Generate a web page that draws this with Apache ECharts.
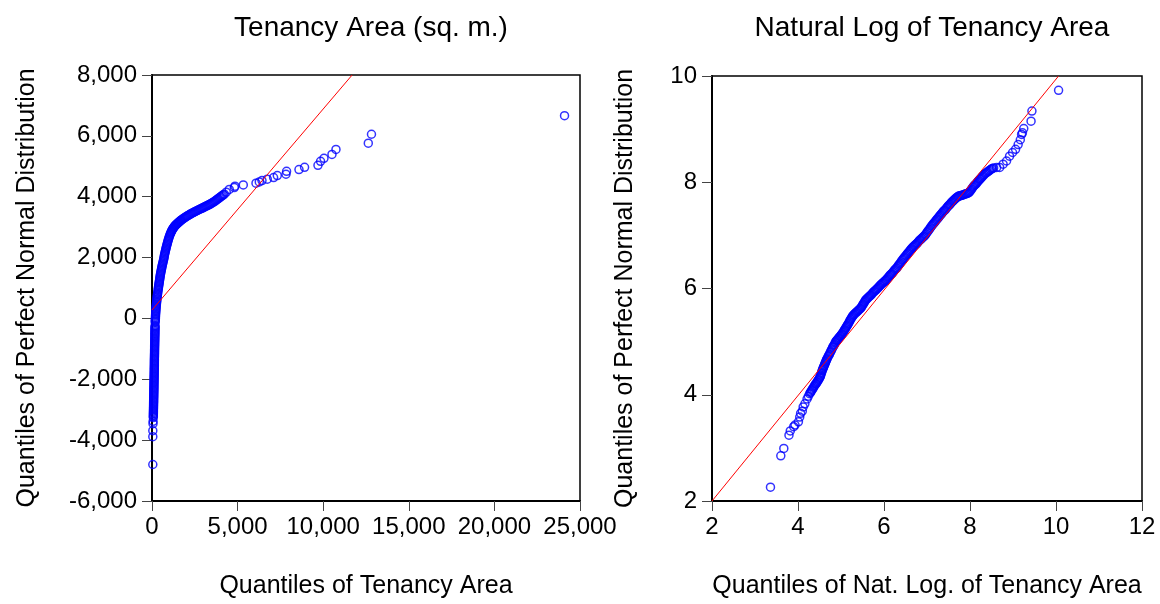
<!DOCTYPE html>
<html>
<head>
<meta charset="utf-8">
<script src="https://cdn.jsdelivr.net/npm/echarts@6/dist/echarts.min.js"></script>
<style>
html,body{margin:0;padding:0;background:#fff;}
#chart{width:1160px;height:604px;}
</style>
</head>
<body>
<div id="chart"></div>
<script>
// ---------- DATA ----------
const titles = ['Tenancy Area (sq. m.)', 'Natural Log of Tenancy Area'];
const xNames = ['Quantiles of Tenancy Area', 'Quantiles of Nat. Log. of Tenancy Area'];
const yName = 'Quantiles of Perfect Normal Distribution';

const areaXTickValues = [0, 5000, 10000, 15000, 20000, 25000];
const areaXTickLabels = ['0', '5,000', '10,000', '15,000', '20,000', '25,000'];
const areaYTickValues = [-6000, -4000, -2000, 0, 2000, 4000, 6000, 8000];
const areaYTickLabels = ['-6,000', '-4,000', '-2,000', '0', '2,000', '4,000', '6,000', '8,000'];
const logXTickValues = [2, 4, 6, 8, 10, 12];
const logXTickLabels = ['2', '4', '6', '8', '10', '12'];
const logYTickValues = [2, 4, 6, 8, 10];
const logYTickLabels = ['2', '4', '6', '8', '10'];

// Q-Q points: [quantile of tenancy area, quantile of normal distribution]
const areaPoints = [
 [47,-4800],[47,-3886],[47,-3690],[60,-3460],[64,-3380],
 [76,-3257],[78,-3216],[79,-3175],[81,-3134],[82,-3093],[84,-3052],[85,-3012],[87,-2971],[88,-2930],[90,-2889],
 [91,-2848],[92,-2808],[94,-2767],[95,-2726],[96,-2685],[98,-2645],[99,-2604],[101,-2563],[102,-2522],[104,-2481],
 [105,-2441],[107,-2400],[108,-2359],[110,-2318],[111,-2278],[113,-2237],[114,-2196],[116,-2155],[117,-2114],[119,-2074],
 [120,-2033],[122,-1992],[123,-1951],[125,-1910],[126,-1870],[128,-1829],[129,-1788],[131,-1747],[132,-1707],[133,-1666],
 [134,-1625],[136,-1584],[137,-1543],[138,-1503],[139,-1462],[139,-1421],[140,-1380],[141,-1340],[142,-1299],[144,-1258],
 [145,-1217],[147,-1176],[148,-1136],[149,-1095],[150,-1054],[151,-1013],[152,-972],[154,-932],[155,-891],[157,-850],
 [158,-809],[160,-768],[161,-728],[163,-687],[164,-646],[166,-605],[167,-565],[168,-524],[169,-483],[171,-442],
 [172,-401],[174,-361],[175,-320],[178,-279],[181,-238],
 [187,-124],[191,-81],[195,-38],[199,5],[202,48],[206,91],[210,134],[215,177],[221,220],[227,263],[233,306],[239,349],
 [244,392],[252,435],[260,478],[268,521],[275,564],[283,607],[291,650],[299,693],[308,736],[318,779],[328,822],[340,865],
 [356,920],[365,961],[374,1002],[384,1043],[395,1084],[406,1125],[417,1166],[428,1207],[439,1248],[450,1289],[461,1330],
 [472,1371],[483,1412],[495,1453],[510,1494],[524,1535],[539,1576],[554,1617],[568,1658],[583,1699],[598,1740],[615,1781],
 [632,1822],[649,1863],[666,1904],[683,1945],[700,1986],[712,2027],[720,2068],[738,2109],[755,2150],[772,2191],[789,2232],
 [806,2273],[823,2314],[841,2355],[860,2396],[880,2437],[899,2478],[919,2519],[939,2560],[961,2601],[983,2642],[1007,2683],
 [1032,2724],[1060,2765],[1085,2797],[1110,2829],[1133,2856],[1156,2884],[1180,2911],[1205,2933],[1230,2955],[1256,2976],
 [1283,2998],[1310,3020],[1338,3041],[1367,3057],[1396,3074],[1425,3090],[1456,3106],[1488,3123],[1519,3139],[1552,3155],
 [1585,3172],[1618,3188],[1651,3204],[1684,3221],[1717,3237],
 [1770,3258],[1822,3279],[1875,3299],[1928,3318],[1980,3338],[2033,3358],[2088,3376],[2144,3393],[2200,3413],[2255,3433],
 [2310,3449],[2366,3465],[2421,3482],[2477,3498],[2532,3515],[2588,3531],[2646,3547],[2704,3563],[2762,3580],[2821,3596],
 [2880,3612],[2938,3628],[2996,3645],[3055,3661],[3113,3678],[3172,3694],[3230,3710],[3289,3726],[3347,3743],[3405,3759],
 [3463,3778],[3522,3798],[3580,3820],[3639,3841],[3697,3866],[3756,3890],[3814,3914],[3873,3938],[3931,3963],[3989,3987],
 [4047,4012],[4106,4036],[4164,4061],[4223,4085],
 [4340,4150],[4514,4240],[4806,4300],[4847,4346],[5332,4389],[6074,4444],[6266,4487],[6424,4532],[6734,4575],[7103,4630],
 [7318,4695],[7826,4738],[7861,4836],[8585,4891],[8912,4966],[9694,5032],[9846,5162],[10045,5260],[10512,5391],[10746,5554],
 [12634,5760],[12820,6053],[24096,6663]
];
const areaRefLine = [[0,275],[11690,8000]];

// Q-Q points: [quantile of ln(area), quantile of normal distribution]
const logAreaPoints = [
 [3.36,2.26],[3.60,2.85],[3.67,2.99],[3.79,3.24],[3.82,3.32],[3.90,3.40],[3.93,3.43],[4.01,3.49],[4.04,3.58],[4.06,3.65],
 [4.10,3.69],[4.12,3.77],[4.16,3.83],[4.21,3.92],[4.24,3.97],
 [4.27,4.02],[4.29,4.04],[4.30,4.06],[4.32,4.08],[4.33,4.10],[4.35,4.12],[4.36,4.14],[4.38,4.16],[4.39,4.18],[4.41,4.20],
 [4.42,4.21],[4.44,4.23],[4.45,4.25],[4.47,4.27],[4.48,4.29],[4.50,4.31],[4.51,4.33],
 [4.52,4.35],[4.53,4.37],[4.54,4.40],[4.55,4.42],[4.56,4.45],[4.57,4.47],[4.58,4.49],[4.59,4.51],[4.60,4.53],[4.61,4.55],
 [4.62,4.57],[4.63,4.59],[4.64,4.61],[4.65,4.63],[4.66,4.65],[4.67,4.67],
 [4.685,4.69],[4.70,4.72],[4.715,4.74],[4.73,4.76],[4.745,4.79],[4.76,4.81],[4.775,4.84],[4.79,4.86],[4.805,4.89],[4.82,4.91],
 [4.835,4.93],[4.85,4.95],[4.865,4.98],[4.88,5.00],[4.895,5.02],[4.91,5.03],
 [4.925,5.045],[4.94,5.06],[4.955,5.075],[4.97,5.09],[4.985,5.105],[5.00,5.12],[5.015,5.135],[5.03,5.15],[5.045,5.17],[5.06,5.19],
 [5.075,5.21],[5.09,5.23],[5.105,5.25],[5.12,5.27],[5.135,5.29],[5.15,5.31],
 [5.165,5.33],[5.18,5.35],[5.195,5.375],[5.21,5.40],[5.225,5.42],[5.24,5.44],[5.255,5.46],[5.27,5.48],[5.285,5.495],[5.30,5.51],
 [5.32,5.525],[5.34,5.54],[5.36,5.555],[5.38,5.57],[5.40,5.585],[5.42,5.60],[5.44,5.615],[5.46,5.63],
 [5.475,5.65],[5.49,5.67],[5.505,5.69],[5.52,5.71],[5.535,5.73],[5.55,5.75],[5.565,5.77],[5.58,5.79],
 [5.60,5.805],[5.62,5.82],[5.64,5.835],[5.66,5.85],[5.68,5.865],[5.70,5.88],[5.72,5.90],[5.74,5.92],[5.76,5.935],[5.78,5.95],
 [5.80,5.965],[5.82,5.98],[5.84,5.995],[5.86,6.01],[5.88,6.03],[5.90,6.05],[5.92,6.065],[5.94,6.08],[5.96,6.095],[5.98,6.11],
 [6.00,6.125],[6.02,6.14],[6.04,6.155],[6.06,6.17],[6.08,6.19],[6.10,6.21],[6.12,6.23],[6.14,6.25],[6.16,6.265],[6.18,6.28],
 [6.20,6.30],[6.22,6.32],[6.24,6.34],[6.26,6.36],[6.28,6.375],
 [6.30,6.39],[6.32,6.415],[6.34,6.44],[6.36,6.46],[6.38,6.48],[6.40,6.505],[6.42,6.53],[6.44,6.55],
 [6.46,6.57],[6.48,6.59],[6.50,6.61],[6.52,6.63],[6.54,6.65],[6.56,6.67],[6.58,6.69],[6.60,6.71],[6.62,6.73],[6.64,6.75],
 [6.66,6.77],[6.68,6.785],[6.70,6.80],
 [6.72,6.815],[6.74,6.83],[6.76,6.845],[6.78,6.86],[6.80,6.88],[6.82,6.90],[6.84,6.915],[6.86,6.93],[6.88,6.945],[6.90,6.96],
 [6.92,6.975],[6.94,6.99],
 [6.96,7.01],[6.98,7.03],[7.00,7.055],[7.02,7.08],[7.04,7.10],[7.06,7.12],[7.08,7.145],[7.10,7.17],[7.12,7.19],[7.14,7.21],
 [7.16,7.23],[7.18,7.25],
 [7.20,7.27],[7.22,7.29],[7.24,7.31],[7.26,7.33],[7.28,7.35],[7.30,7.37],[7.32,7.39],[7.34,7.41],[7.36,7.43],[7.38,7.45],
 [7.40,7.465],[7.42,7.48],[7.44,7.50],[7.46,7.52],[7.48,7.54],[7.50,7.56],[7.52,7.575],[7.54,7.59],[7.56,7.61],[7.58,7.63],
 [7.60,7.645],[7.62,7.66],[7.64,7.675],[7.66,7.69],[7.68,7.705],[7.70,7.72],[7.72,7.73],[7.74,7.74],
 [7.765,7.745],[7.79,7.75],[7.815,7.755],[7.84,7.76],[7.865,7.77],[7.89,7.78],[7.915,7.785],[7.94,7.79],[7.96,7.80],[7.98,7.81],
 [8.00,7.83],[8.02,7.85],[8.04,7.875],[8.06,7.90],[8.08,7.92],[8.10,7.94],[8.12,7.955],[8.14,7.97],[8.16,7.99],[8.18,8.01],
 [8.20,8.03],[8.22,8.05],[8.24,8.065],[8.26,8.08],[8.28,8.10],[8.30,8.12],
 [8.325,8.14],[8.35,8.16],[8.375,8.175],[8.40,8.19],[8.425,8.205],[8.45,8.22],[8.475,8.235],[8.50,8.25],[8.525,8.26],[8.55,8.27],
 [8.62,8.28],[8.69,8.28],[8.77,8.34],[8.85,8.40],[8.92,8.49],[8.99,8.56],[9.06,8.62],[9.12,8.71],[9.17,8.80],
 [9.20,8.90],[9.22,8.93],[9.25,9.01],[9.42,9.15],[9.44,9.34],[10.06,9.73]
];
const logRefLine = [[2,2],[10.06,10]];

// ---------- CHART ----------
const FONT = "'Liberation Sans', Arial, sans-serif";
function lookup(values, labels) {
  const m = {};
  values.forEach((v, i) => { m[v] = labels[i]; });
  return v => (m[v] !== undefined ? m[v] : '');
}
function xAxis(gi, min, max, interval, fmt, name) {
  return {
    type: 'value', gridIndex: gi, min, max, interval,
    name, nameLocation: 'middle', nameGap: 73,
    nameTextStyle: { fontFamily: FONT, fontSize: 25, color: '#000' },
    axisLine: { show: true, onZero: false, lineStyle: { color: '#000', width: 2 } },
    axisTick: { show: true, inside: false, length: 10, lineStyle: { color: '#444', width: 1 } },
    axisLabel: { fontFamily: FONT, fontSize: 24, color: '#000', margin: 14, formatter: fmt, showMinLabel: true, showMaxLabel: true },
    splitLine: { show: false }
  };
}
function yAxis(gi, min, max, interval, fmt, gap) {
  return {
    type: 'value', gridIndex: gi, min, max, interval,
    name: yName, nameLocation: 'middle', nameGap: gap,
    nameTextStyle: { fontFamily: FONT, fontSize: 25, color: '#000' },
    axisLine: { show: true, onZero: false, lineStyle: { color: '#000', width: 2 } },
    axisTick: { show: true, inside: false, length: 10, lineStyle: { color: '#444', width: 1 } },
    axisLabel: { fontFamily: FONT, fontSize: 24, color: '#000', margin: 15, formatter: fmt, showMinLabel: true, showMaxLabel: true },
    splitLine: { show: false }
  };
}
const pointStyle = { color: 'rgba(0,0,0,0)', borderColor: '#0000ff', borderWidth: 1.5 };

const chart = echarts.init(document.getElementById('chart'), null, { renderer: 'canvas' });
chart.setOption({
  animation: false,
  backgroundColor: '#fff',
  title: [
    { text: titles[0], left: 366, top: 9, textAlign: 'center',
      textStyle: { fontFamily: FONT, fontSize: 28, fontWeight: 'normal', color: '#000' } },
    { text: titles[1], left: 927, top: 9, textAlign: 'center',
      textStyle: { fontFamily: FONT, fontSize: 28, fontWeight: 'normal', color: '#000' } }
  ],
  grid: [
    { left: 152, top: 75, width: 428, height: 429, show: true, borderColor: '#000', borderWidth: 1.5, backgroundColor: '#fff' },
    { left: 712, top: 76, width: 430, height: 429, show: true, borderColor: '#000', borderWidth: 1.5, backgroundColor: '#fff' }
  ],
  xAxis: [
    xAxis(0, 0, 25000, 5000, lookup(areaXTickValues, areaXTickLabels), xNames[0]),
    xAxis(1, 2, 12, 2, lookup(logXTickValues, logXTickLabels), xNames[1])
  ],
  yAxis: [
    yAxis(0, -6000, 8000, 2000, lookup(areaYTickValues, areaYTickLabels), 112),
    yAxis(1, 2, 10, 2, lookup(logYTickValues, logYTickLabels), 74)
  ],
  series: [
    { type: 'scatter', xAxisIndex: 0, yAxisIndex: 0, data: areaPoints, symbol: 'circle', symbolSize: 8,
      itemStyle: pointStyle, emphasis: { disabled: true }, silent: true, z: 2 },
    { type: 'line', xAxisIndex: 0, yAxisIndex: 0, data: areaRefLine, symbol: 'none', clip: true,
      lineStyle: { color: '#ff0000', width: 1 }, silent: true, z: 3 },
    { type: 'scatter', xAxisIndex: 1, yAxisIndex: 1, data: logAreaPoints, symbol: 'circle', symbolSize: 8,
      itemStyle: pointStyle, emphasis: { disabled: true }, silent: true, z: 2 },
    { type: 'line', xAxisIndex: 1, yAxisIndex: 1, data: logRefLine, symbol: 'none', clip: true,
      lineStyle: { color: '#ff0000', width: 1 }, silent: true, z: 3 }
  ]
});
</script>
</body>
</html>
